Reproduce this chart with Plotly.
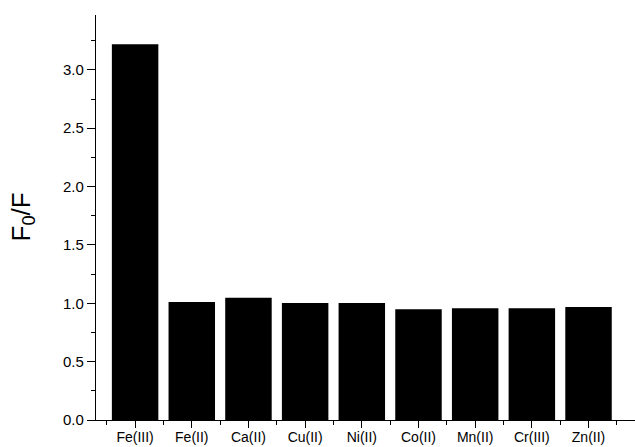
import plotly.graph_objects as go

# Metal ions tested and the measured quenching ratio F0/F
ions = ["Fe(III)", "Fe(II)", "Ca(II)", "Cu(II)", "Ni(II)", "Co(II)", "Mn(II)", "Cr(III)", "Zn(II)"]
ratio = [3.22, 1.011, 1.048, 1.003, 1.003, 0.949, 0.957, 0.957, 0.969]

y_ticks = [0.0, 0.5, 1.0, 1.5, 2.0, 2.5, 3.0]
y_tick_text = ["0.0", "0.5", "1.0", "1.5", "2.0", "2.5", "3.0"]

positions = list(range(len(ions)))
font_family = "Liberation Sans, Arial, sans-serif"

fig = go.Figure(
    go.Bar(
        x=positions,
        y=ratio,
        width=0.82,
        marker=dict(color="black", line=dict(width=0)),
    )
)

axis_common = dict(
    showline=True,
    linecolor="black",
    linewidth=1.3,
    ticks="outside",
    ticklen=8,
    tickwidth=1.3,
    tickcolor="black",
    showgrid=False,
    zeroline=False,
    mirror=False,
    automargin=False,
    tickfont=dict(family=font_family, size=15, color="black"),
)

fig.update_layout(
    width=635,
    height=447,
    margin=dict(l=96, r=0, t=15, b=27),
    paper_bgcolor="white",
    plot_bgcolor="white",
    showlegend=False,
    xaxis=dict(
        axis_common,
        range=[-0.69, 8.82],
        tickmode="array",
        tickvals=positions,
        ticktext=ions,
        ticklen=7,
        ticklabelstandoff=-3,
        tickfont=dict(family=font_family, size=14, color="black"),
        minor=dict(
            ticks="outside",
            ticklen=4,
            tickwidth=1.3,
            tickcolor="black",
            tickmode="array",
            tickvals=[p - 0.5 for p in positions] + [positions[-1] + 0.5],
            showgrid=False,
        ),
    ),
    yaxis=dict(
        axis_common,
        range=[0, 3.47],
        tickmode="array",
        tickvals=y_ticks,
        ticktext=y_tick_text,
        minor=dict(
            ticks="outside",
            ticklen=4,
            tickwidth=1.3,
            tickcolor="black",
            dtick=0.25,
            tick0=0,
            showgrid=False,
        ),
    ),
    annotations=[
        dict(
            text="F<sub>0</sub>/F",
            xref="paper",
            yref="paper",
            x=(22 - 96) / 539,
            y=0.5,
            xanchor="center",
            yanchor="middle",
            textangle=-90,
            showarrow=False,
            font=dict(family=font_family, size=26, color="black"),
        )
    ],
)

fig.write_html("out.html")
